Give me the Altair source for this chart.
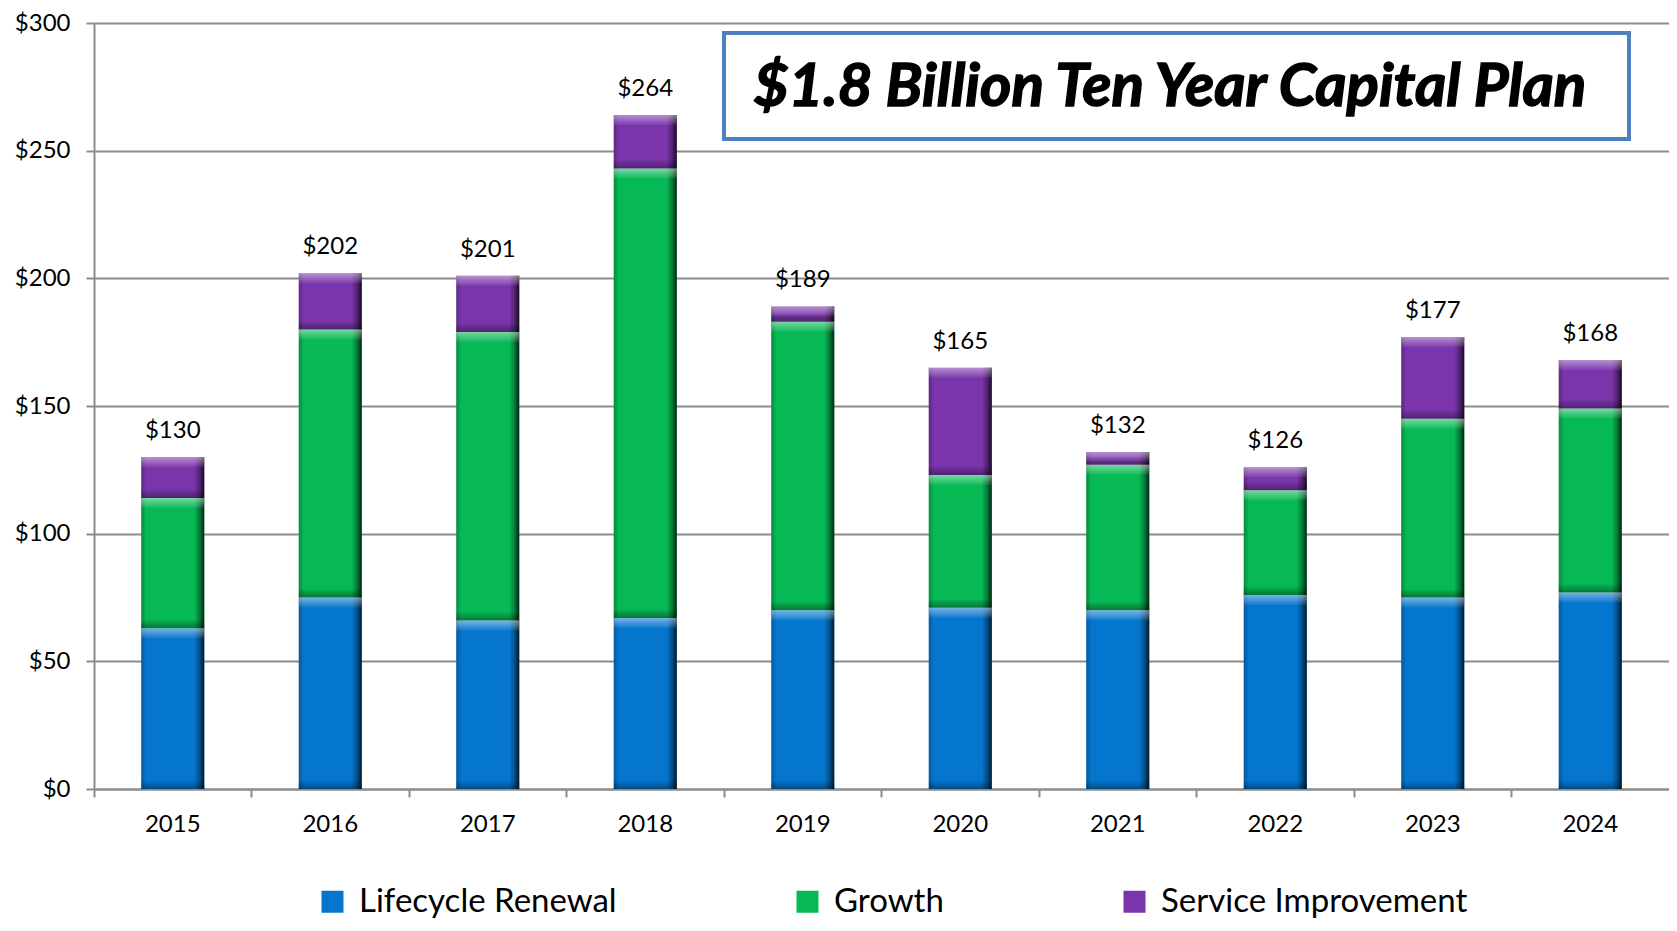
import altair as alt
import pandas as pd

years = ["2015", "2016", "2017", "2018", "2019", "2020", "2021", "2022", "2023", "2024"]
lifecycle = [63, 75, 66, 67, 70, 71, 70, 76, 75, 77]
growth = [51, 105, 113, 176, 113, 52, 57, 41, 70, 72]
service = [16, 22, 22, 21, 6, 42, 5, 9, 32, 19]
series_names = ["Lifecycle Renewal", "Growth", "Service Improvement"]
series_colors = ["#0576CE", "#06B955", "#7A35AB"]
y_ticks = [0, 50, 100, 150, 200, 250, 300]
title_text = "$1.8 Billion Ten Year Capital Plan"

FONT = "Lato, 'Open Sans', sans-serif"

rows = []
for i, y in enumerate(years):
    for k, (name, vals) in enumerate(zip(series_names, [lifecycle, growth, service])):
        rows.append({"year": y, "series": name, "order": k, "value": vals[i]})
df = pd.DataFrame(rows)

xenc = alt.X(
    "year:N",
    scale=alt.Scale(paddingInner=0.6, paddingOuter=0.3),
    axis=alt.Axis(
        title=None, labelAngle=0, labelFontSize=24, labelFont=FONT, labelColor="black",
        labelPadding=15, tickSize=8, tickColor="#8c8c8c", tickWidth=2, bandPosition=-0.75,
        domainColor="#8c8c8c", domainWidth=2, grid=False,
    ),
)
yscale = alt.Scale(domain=[0, 300], nice=False)

base = alt.Chart(df).transform_stack(
    stack="value", groupby=["year"], as_=["v0", "v1"], sort=[alt.SortField("order")]
)

bars = base.mark_bar(stroke=None).encode(
    x=xenc,
    y=alt.Y(
        "v0:Q", scale=yscale,
        axis=alt.Axis(
            title=None, values=y_ticks, labelExpr="'$' + datum.label", labelFontSize=24,
            labelFont=FONT, labelColor="black", labelPadding=16, tickSize=8,
            tickColor="#8c8c8c", tickWidth=2, domainColor="#8c8c8c", domainWidth=2,
            gridColor="#8c8c8c", gridWidth=2,
        ),
    ),
    y2="v1:Q",
    color=alt.Color(
        "series:N",
        scale=alt.Scale(domain=series_names, range=series_colors),
        legend=alt.Legend(
            title=None, orient="none", direction="horizontal", legendX=222, legendY=862,
            symbolType="square", symbolSize=484, symbolStrokeWidth=0, labelFontSize=33,
            labelFont=FONT, labelColor="black", columnPadding=174, labelOffset=10,
            labelLimit=600,
        ),
    ),
)

shade = base.mark_bar(
    fill={
        "gradient": "linear", "x1": 0, "y1": 0, "x2": 1, "y2": 0,
        "stops": [
            {"offset": 0.0, "color": "rgba(0,0,0,0.25)"},
            {"offset": 0.08, "color": "rgba(0,0,0,0)"},
            {"offset": 0.84, "color": "rgba(0,0,0,0)"},
            {"offset": 0.93, "color": "rgba(0,0,0,0.35)"},
            {"offset": 1.0, "color": "rgba(0,0,0,0.8)"},
        ],
    },
    stroke=None,
).encode(x=alt.X("year:N"), y=alt.Y("v0:Q", scale=yscale), y2="v1:Q")

highlight = base.mark_bar(
    fill={
        "gradient": "linear", "x1": 0, "y1": 0, "x2": 0, "y2": 1,
        "stops": [
            {"offset": 0.0, "color": "rgba(255,255,255,0.45)"},
            {"offset": 1.0, "color": "rgba(255,255,255,0.05)"},
        ],
    },
    stroke=None, y2Offset=10,
).encode(x=alt.X("year:N"), y=alt.Y("v1:Q", scale=yscale), y2="v1:Q")

lowband = base.mark_bar(
    fill={
        "gradient": "linear", "x1": 0, "y1": 0, "x2": 0, "y2": 1,
        "stops": [
            {"offset": 0.0, "color": "rgba(0,0,0,0.05)"},
            {"offset": 1.0, "color": "rgba(0,0,0,0.35)"},
        ],
    },
    stroke=None, yOffset=-8,
).encode(x=alt.X("year:N"), y=alt.Y("v0:Q", scale=yscale), y2="v0:Q")

totals = alt.Chart(df).transform_aggregate(
    total="sum(value)", groupby=["year"]
).transform_calculate(
    label="'$' + datum.total"
).mark_text(
    baseline="bottom", dy=-14, fontSize=24, font=FONT, color="black"
).encode(x=alt.X("year:N"), y=alt.Y("total:Q", scale=yscale), text="label:N")

tdf = pd.DataFrame({"t": [title_text]})
tbox = alt.Chart(tdf).mark_rect(fill="white", stroke="#4F81BD", strokeWidth=4).encode(
    x=alt.value(630), x2=alt.value(1535), y=alt.value(10), y2=alt.value(116)
)
ttext = alt.Chart(tdf).mark_text(
    fontSize=60, fontWeight="bold", fontStyle="italic", font=FONT, color="black",
    align="center", baseline="middle", stroke="black", strokeWidth=1.5,
).encode(x=alt.value(1076), y=alt.value(65), text="t:N")

chart = alt.layer(bars, shade, highlight, lowband, totals, tbox, ttext).properties(
    width=1575, height=766,
    autosize=alt.AutoSizeParams(type="none"),
    padding={"left": 86, "top": 15, "right": 0, "bottom": 132},
).configure_view(stroke=None).configure(background="white")

chart.save("out.html", embed_options={"renderer": "svg", "actions": False})
